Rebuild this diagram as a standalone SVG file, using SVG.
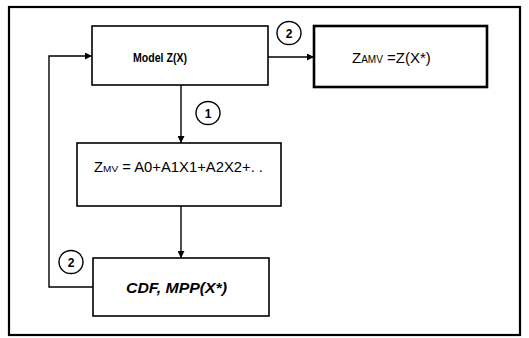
<svg xmlns="http://www.w3.org/2000/svg" width="529" height="338" viewBox="0 0 529 338">
<style>
.box{fill:#fff;stroke:#000;stroke-width:1.6}
.thick{fill:#fff;stroke:#000;stroke-width:2.6}
.conn{fill:none;stroke:#000;stroke-width:1.4}
.circ{fill:#fff;stroke:#000;stroke-width:1.4}
.t{font-family:"Liberation Sans",Arial,sans-serif;fill:#000}
.n{font-family:"Liberation Sans",Arial,sans-serif;font-size:12px;font-weight:bold;fill:#000;text-anchor:middle}
</style>
<defs>
<marker id="ah" viewBox="0 0 10 10" refX="10" refY="5" markerWidth="7" markerHeight="7" markerUnits="userSpaceOnUse" orient="auto">
<path d="M0,0 L10,5 L0,10 z" fill="#000"/>
</marker>
</defs>
<rect x="9" y="7" width="511" height="328" fill="none" stroke="#000" stroke-width="2.2"/>
<g id="connectors">
<line class="conn" x1="268" y1="57" x2="314" y2="57" marker-end="url(#ah)"/>
<line class="conn" x1="181" y1="85" x2="181" y2="143" marker-end="url(#ah)"/>
<line class="conn" x1="181" y1="206" x2="181" y2="258" marker-end="url(#ah)"/>
<polyline class="conn" points="93,287 49,287 49,56 92,56" marker-end="url(#ah)"/>
</g>
<g id="model">
<rect class="box" x="92" y="26" width="176" height="59"/>
<text class="t" x="133" y="61.5" font-size="13.5" font-weight="bold" textLength="54" lengthAdjust="spacingAndGlyphs">Model Z(X)</text>
</g>
<g id="zamv">
<rect class="thick" x="314" y="26" width="173" height="61"/>
<text class="t" x="352" y="63" font-size="15"><tspan>Z</tspan><tspan font-size="10">AMV</tspan><tspan> =Z(X*)</tspan></text>
</g>
<g id="zmv">
<rect class="box" x="77" y="143" width="204" height="63"/>
<text class="t" x="94" y="172" font-size="14" textLength="169" lengthAdjust="spacingAndGlyphs"><tspan>Z</tspan><tspan font-size="9.5">MV</tspan><tspan> = A0+A1X1+A2X2+. .</tspan></text>
</g>
<g id="cdf">
<rect class="box" x="93" y="258" width="176" height="58"/>
<text class="t" x="126" y="293" font-size="15" font-weight="bold" font-style="italic" textLength="101" lengthAdjust="spacingAndGlyphs">CDF, MPP(X*)</text>
</g>
<g id="label-2-top">
<ellipse class="circ" cx="289" cy="33" rx="12" ry="11.5"/>
<text class="n" x="289" y="37.5">2</text>
</g>
<g id="label-1">
<ellipse class="circ" cx="208" cy="113" rx="12" ry="11.5"/>
<text class="n" x="208" y="117.5">1</text>
</g>
<g id="label-2-bottom">
<ellipse class="circ" cx="71" cy="262" rx="12" ry="11.5"/>
<text class="n" x="71" y="266.5">2</text>
</g>
</svg>
